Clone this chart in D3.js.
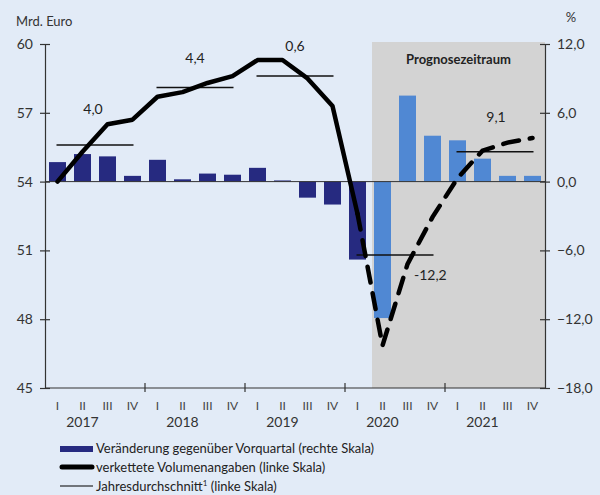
<!DOCTYPE html>
<html>
<head>
<meta charset="utf-8">
<script src="https://cdn.jsdelivr.net/npm/d3@7"></script>
<style>
  body { margin: 0; background: #e2ebf7; }
  svg { display: block; }
  text { font-family: Lato, "Open Sans", sans-serif; fill: #333; }
</style>
</head>
<body>
<svg id="chart"></svg>
<script>
var width = 600;
var height = 495;

// quarters 2017 I .. 2021 IV
var quarterLabels = ["I","II","III","IV","I","II","III","IV","I","II","III","IV","I","II","III","IV","I","II","III","IV"];
var years = ["2017","2018","2019","2020","2021"];
// Veraenderung gegenueber Vorquartal in % (rechte Skala)
var change = [1.7, 2.4, 2.2, 0.5, 1.9, 0.2, 0.7, 0.6, 1.2, 0.1, -1.4, -2.0, -6.8, -11.9, 7.5, 4.0, 3.6, 2.0, 0.5, 0.5];
// verkettete Volumenangaben, Mrd. Euro (linke Skala)
var volume = [54.0, 55.3, 56.5, 56.7, 57.7, 57.9, 58.3, 58.6, 59.3, 59.3, 58.5, 57.3, 52.6, 46.85, 50.4, 52.45, 54.15, 55.35, 55.7, 55.9];
// Jahresdurchschnitt (linke Skala) and annual change labels
var annualAvg = [55.6, 58.1, 58.6, 50.8, 55.3];
var annualChange = ["4,0", "4,4", "0,6", "-12,2", "9,1"];
var leftTicks = [45, 48, 51, 54, 57, 60];
var rightTicks = [-18, -12, -6, 0, 6, 12];
var firstForecast = 13; // 2020 II

var svg = d3.select("#chart").attr("width", width).attr("height", height);

var x = d3.scaleBand()
    .domain(d3.range(quarterLabels.length))
    .range([45, 545])
    .paddingInner(0.32)
    .paddingOuter(0.16);
var cx = function(i) { return x(i) + x.bandwidth() / 2; };
var yL = d3.scaleLinear().domain([45, 60]).range([388, 44]);
var yR = d3.scaleLinear().domain([-18, 12]).range([388, 44]);

// forecast shading
svg.append("rect")
    .attr("x", x(firstForecast) - 2)
    .attr("y", 42)
    .attr("width", 545 - (x(firstForecast) - 2))
    .attr("height", 388 - 42)
    .attr("fill", "#d3d3d3");

svg.append("text")
    .attr("x", (x(firstForecast) - 2 + 545) / 2)
    .attr("y", 64)
    .attr("text-anchor", "middle")
    .style("font-size", "13px")
    .style("font-weight", "bold")
    .style("fill", "#222")
    .text("Prognosezeitraum");

// bars
svg.append("g").selectAll("rect")
    .data(change)
    .enter()
    .append("rect")
    .attr("x", function(d, i) { return x(i); })
    .attr("y", function(d) { return yR(Math.max(0, d)); })
    .attr("width", x.bandwidth())
    .attr("height", function(d) { return Math.abs(yR(d) - yR(0)); })
    .attr("fill", function(d, i) { return i >= firstForecast ? "#5088d3" : "#262a80"; });

// zero line
svg.append("line")
    .attr("x1", 45).attr("x2", 545)
    .attr("y1", yR(0)).attr("y2", yR(0))
    .attr("stroke", "#333").attr("stroke-width", 1);

// annual averages
svg.append("g").selectAll("line")
    .data(annualAvg)
    .enter()
    .append("line")
    .attr("x1", function(d, i) { return cx(i * 4) - 1; })
    .attr("x2", function(d, i) { return cx(i * 4 + 3) + 1; })
    .attr("y1", function(d) { return yL(d); })
    .attr("y2", function(d) { return yL(d); })
    .attr("stroke", "#111")
    .attr("stroke-width", 1.5);

// volume line
var line = d3.line()
    .x(function(d) { return cx(d.i); })
    .y(function(d) { return yL(d.v); });
var pts = volume.map(function(v, i) { return {i: i, v: v}; });

svg.append("path")
    .datum(pts.slice(0, firstForecast))
    .attr("d", line)
    .attr("fill", "none")
    .attr("stroke", "#000")
    .attr("stroke-width", 4.5)
    .attr("stroke-linejoin", "round")
    .attr("stroke-linecap", "round");

svg.append("path")
    .datum(pts.slice(firstForecast - 1))
    .attr("d", line)
    .attr("fill", "none")
    .attr("stroke", "#000")
    .attr("stroke-width", 4.5)
    .attr("stroke-dasharray", "16,11")
    .attr("stroke-linecap", "round");

// annual change labels
var labelOffset = [[-2, -31], [0, -25], [0, -25], [19, 25], [1, -30]];
svg.append("g").selectAll("text")
    .data(annualChange)
    .enter()
    .append("text")
    .attr("x", function(d, i) { return (cx(i * 4) + cx(i * 4 + 3)) / 2 + labelOffset[i][0]; })
    .attr("y", function(d, i) { return yL(annualAvg[i]) + labelOffset[i][1]; })
    .attr("text-anchor", function(d, i) { return i == 3 ? "start" : "middle"; })
    .style("font-size", "14px")
    .style("fill", "#222")
    .text(function(d) { return d; });

// left axis
var axisL = svg.append("g").attr("transform", "translate(45,0)")
    .call(d3.axisLeft(yL).tickValues(leftTicks).tickSize(0).tickPadding(12).tickFormat(d3.format("d")));
var axisR = svg.append("g").attr("transform", "translate(545,0)")
    .call(d3.axisRight(yR).tickValues(rightTicks).tickSize(0).tickPadding(12)
        .tickFormat(function(d) { return d3.format(".1f")(d).replace(".", ","); }));
[axisL, axisR].forEach(function(a) {
    a.select(".domain").attr("stroke", "#333").attr("stroke-width", 1.2);
    a.selectAll("text").style("font-size", "14px").style("fill", "#333").style("font-family", "Lato, sans-serif");
    a.selectAll(".tick").append("line").attr("x1", -5).attr("x2", 5).attr("stroke", "#333").attr("stroke-width", 1.2);
});

// x axis
svg.append("line")
    .attr("x1", 45).attr("x2", 545)
    .attr("y1", 388).attr("y2", 388)
    .attr("stroke", "#333").attr("stroke-width", 1.2);
svg.append("g").selectAll("line")
    .data(d3.range(1, years.length))
    .enter()
    .append("line")
    .attr("x1", function(d) { return x(d * 4) - x.step() * x.paddingInner() / 2; })
    .attr("x2", function(d) { return x(d * 4) - x.step() * x.paddingInner() / 2; })
    .attr("y1", 383).attr("y2", 392)
    .attr("stroke", "#333").attr("stroke-width", 1.2);

svg.append("g").selectAll("text")
    .data(quarterLabels)
    .enter()
    .append("text")
    .attr("x", function(d, i) { return cx(i); })
    .attr("y", 410)
    .attr("text-anchor", "middle")
    .style("font-size", "12px")
    .style("fill", "#444")
    .text(function(d) { return d; });

svg.append("g").selectAll("text")
    .data(years)
    .enter()
    .append("text")
    .attr("x", function(d, i) { return cx(i * 4 + 1); })
    .attr("y", 427)
    .attr("text-anchor", "middle")
    .style("font-size", "14px")
    .style("fill", "#333")
    .text(function(d) { return d; });

// units
svg.append("text").attr("x", 16).attr("y", 26).style("font-size", "13px").text("Mrd. Euro");
svg.append("text").attr("x", 571).attr("y", 22).attr("text-anchor", "middle").style("font-size", "13px").text("%");

// legend
var lg = svg.append("g");
lg.append("rect").attr("x", 60).attr("y", 446).attr("width", 33).attr("height", 6).attr("fill", "#262a80");
lg.append("line").attr("x1", 62).attr("x2", 92).attr("y1", 467).attr("y2", 467)
    .attr("stroke", "#000").attr("stroke-width", 5).attr("stroke-linecap", "round");
lg.append("line").attr("x1", 60).attr("x2", 93).attr("y1", 486).attr("y2", 486)
    .attr("stroke", "#000").attr("stroke-width", 1.2);
var legendText = ["Veränderung gegenüber Vorquartal (rechte Skala)", "verkettete Volumenangaben (linke Skala)"];
lg.selectAll("text.lt")
    .data(legendText)
    .enter()
    .append("text")
    .attr("class", "lt")
    .attr("x", 96)
    .attr("y", function(d, i) { return 453 + i * 19; })
    .style("font-size", "13px")
    .style("fill", "#222")
    .text(function(d) { return d; });
var jt = lg.append("text").attr("x", 96).attr("y", 491).style("font-size", "13px").style("fill", "#222");
jt.append("tspan").text("Jahresdurchschnitt");
jt.append("tspan").attr("dy", -5).style("font-size", "8px").text("1");
jt.append("tspan").attr("dy", 5).text(" (linke Skala)");
</script>
</body>
</html>
